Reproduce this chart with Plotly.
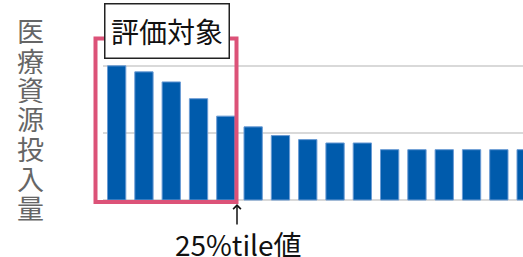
import plotly.graph_objects as go

# ---- data ----
categories = list(range(1, 17))
values = [200, 191, 176, 151, 125, 109, 96, 90, 85, 85, 75, 75, 75, 75, 75, 75]
grid_vals = [0, 100, 200]
y_title_chars = list("医療資源投入量")
box_label = "評価対象"
pct_label = "25%tile値"

W, H = 523, 257
L, R, T, B = 103, 0, 39, 55
PW, PH = W - L - R, H - T - B

def px(x):
    return (x - L) / PW

def py(y):
    return (H - B - y) / PH

FONT = "Noto Sans CJK JP"

fig = go.Figure()
fig.add_trace(go.Bar(
    x=list(range(len(values))), y=values,
    marker=dict(color="#005BAC", line=dict(color="#6a9bd4", width=1)),
    hoverinfo="skip",
))

annotations = []
# vertical y-axis title, one character per line
centers = [30, 60, 89, 118, 148, 178, 207]
for ch, cy in zip(y_title_chars, centers):
    annotations.append(dict(
        text=ch, x=px(30.5), y=py(cy), xref="paper", yref="paper",
        xanchor="center", yanchor="middle", showarrow=False,
        font=dict(family=FONT, size=27, color="#666666"),
        height=28,
    ))

# label box
annotations.append(dict(
    text=box_label, x=px(167), y=py(30.5), xref="paper", yref="paper",
    xanchor="center", yanchor="middle", showarrow=False,
    font=dict(family=FONT, size=28, color="#111111"),
    bgcolor="white", bordercolor="#222222", borderwidth=1.5,
    borderpad=3, width=117, height=47,
))

# arrow
annotations.append(dict(
    text="", x=px(237), y=py(204), xref="paper", yref="paper",
    showarrow=True, ax=0, ay=22, axref="pixel", ayref="pixel",
    arrowhead=4, arrowsize=1, arrowwidth=1.5, arrowcolor="#111111",
    standoff=0,
))

# 25%tile label
annotations.append(dict(
    text=pct_label, x=px(238), y=py(244), xref="paper", yref="paper",
    xanchor="center", yanchor="middle", showarrow=False,
    font=dict(family=FONT, size=28, color="#111111"), height=26,
))

shapes = [dict(
    type="rect", xref="paper", yref="paper",
    x0=px(95.5), x1=px(236.5), y0=py(202), y1=py(38.5),
    line=dict(color="#DC5278", width=4), fillcolor="rgba(0,0,0,0)",
    layer="above",
)]

fig.update_layout(
    width=W, height=H, autosize=False,
    margin=dict(l=L, r=R, t=T, b=B, pad=0),
    paper_bgcolor="white", plot_bgcolor="white",
    showlegend=False, bargap=0.33, hovermode=False,
    xaxis=dict(range=[-0.5, -0.5 + PW / 27.3], showticklabels=False,
               showgrid=False, zeroline=False, showline=False, ticks=""),
    yaxis=dict(range=[-3, 240], tickvals=grid_vals, showticklabels=False,
               showgrid=True, gridcolor="#d9d9d9", gridwidth=2,
               zeroline=False, showline=False, ticks=""),
    annotations=annotations, shapes=shapes,
)

fig.write_html(
    "out.html",
    config={"displayModeBar": False, "staticPlot": True},
    post_script="document.body.style.margin='0';document.body.style.overflow='hidden';",
)
